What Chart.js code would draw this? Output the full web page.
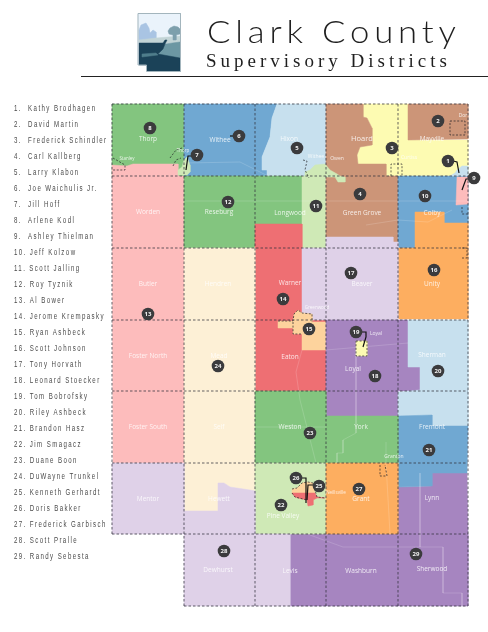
<!DOCTYPE html>
<html><head><meta charset="utf-8">
<style>html,body{margin:0;padding:0;background:#fff}canvas{display:block}</style>
<script src="https://cdn.jsdelivr.net/npm/chart.js@4"></script>
</head><body><canvas id="c" width="488" height="632"></canvas>
<script>
// ---- district names ----
const supervisors = ["Kathy Brodhagen","David Martin","Frederick Schindler","Carl Kallberg","Larry Klabon","Joe Waichulis Jr.","Jill Hoff","Arlene Kodl","Ashley Thielman","Jeff Kolzow","Scott Jalling","Roy Tyznik","Al Bower","Jerome Krempasky","Ryan Ashbeck","Scott Johnson","Tony Horvath","Leonard Stoecker","Tom Bobrofsky","Riley Ashbeck","Brandon Hasz","Jim Smagacz","Duane Boon","DuWayne Trunkel","Kenneth Gerhardt","Doris Bakker","Frederick Garbisch","Scott Pralle","Randy Sebesta"];
// ---- marker positions (map units), index = district - 1 ----
const markerXY = [[448,161],[438,121],[392,148],[360,194],[297,148],[239,136],[197,155],[150,128],[474,178],[425,196],[316,206],[228,202],[148,314],[283,299],[309,329],[434,270],[351,273],[375,376],[356,332],[438,371],[429,450],[281,505],[310,433],[218,366],[319,486],[296,478],[359,489],[224,551],[416,554]];
// ---- colours ----
const GREEN="#83c57f",PINK="#fdbcbc",BLUE="#70a8d2",PALEBLUE="#c7e0ee",BROWN="#cc9578",YELLOW="#fdfbb2",LIME="#cfe9b6",RED="#ee6f73",BEIGE="#fdf0d6",LILAC="#dfd1e8",PURPLE="#a685c0",ORANGE="#fdae60",PEACH="#fdd39d";
// ---- district areas (map units) ----
const thorpArea=[[112,104],[184,104],[184,176],[112,176]];
const wordenArea=[[112,165],[127,166],[133,164],[178,164],[178,176],[184,176],[184,463],[113,463]];
const witheeArea=[[184,104],[277,104],[272,118],[270,137],[262,157],[262,170],[267,170],[267,176],[184,176]];
const hixonArea=[[277,104],[326,104],[326,176],[267,176],[267,170],[262,170],[262,157],[270,137],[272,118]];
const hoardArea=[[326,104],[363,104],[363,117],[367,118],[372,128],[372,145],[360,147],[357,155],[358,164],[386,164],[386,176],[326,176]];
const yellowArea=[[363,104],[408,104],[408,140],[468,140],[468,176],[386,176],[386,164],[358,164],[357,155],[360,147],[372,145],[372,128],[367,118],[363,117]];
const mayvilleArea=[[408,104],[468,104],[468,139],[408,140]];
const reseburgArea=[[184,176],[302,176],[302,224],[255,224],[255,248],[184,248]];
const barArea=[[302,176],[326,176],[326,248],[302,248]];
const owenArea=[[305,172],[310,170],[315,165],[325,164],[330,170],[337,174],[340,176],[345,177],[345,182],[338,182],[335,177],[327,177],[305,177]];
const groveArea=[[326,176],[398,176],[398,242],[393,242],[393,237],[326,237]];
const colbyArea=[[398,176],[468,176],[468,223],[444,223],[444,212],[415,212],[415,248],[398,248]];
const unityArea=[[415,212],[444,212],[444,223],[468,223],[468,319],[398,319],[398,248],[415,248]];
const thielArea=[[456,205],[457,177],[468,177],[468,204]];
const ashleyArea=[[450,176],[455,173],[457,170],[462,166],[468,166],[468,176]];
const warnerArea=[[255,224],[302,224],[302,320],[326,320],[326,391],[255,391]];
const beaverArea=[[302,248],[326,248],[326,237],[393,237],[393,242],[398,242],[398,320],[302,320]];
const hendrenArea=[[184,248],[255,248],[255,491],[250,490],[230,487],[224,483],[218,483],[218,511],[184,511]];
const fifteenArea=[[278,321],[293,321],[294,314],[298,310],[302,313],[312,314],[312,322],[326,322],[326,350],[302,350],[302,334],[293,334],[293,328],[278,328]];
const loyalArea=[[326,320],[408,320],[408,367],[420,367],[420,391],[398,391],[398,416],[326,416]];
const loyalCity=[[356,341],[367,341],[367,356],[356,356]];
const shermanArea=[[408,320],[468,320],[468,426],[432,426],[432,415],[398,416],[398,392],[420,390],[420,367],[408,367]];
const fremontArea=[[398,416],[432,415],[432,426],[468,426],[467,473],[432,473],[432,486],[398,487]];
const lynnArea=[[398,487],[432,486],[432,473],[467,473],[468,534],[468,606],[290,606],[290,534],[398,534]];
const westonArea=[[255,391],[326,391],[326,416],[398,416],[398,463],[255,463]];
const pineArea=[[255,463],[326,463],[326,534],[255,534]];
const grantArea=[[326,463],[398,463],[398,534],[326,534]];
const blobTop=[[292,489],[297,488],[302,483],[308,482],[313,483],[315,493],[292,493]];
const blobRed=[[292,493],[315,493],[317,497],[325,498],[317,498],[313,500],[313,505],[308,506],[307,500],[298,498],[295,497]];
const lilacArea=[[112,463],[184,463],[184,511],[218,511],[218,483],[224,483],[230,487],[250,490],[255,491],[255,534],[290,534],[290,606],[184,606],[184,534],[112,534]];
const spike7=[[178,175],[178,170],[182,167],[184,160],[187,157],[190,165],[190,172],[187,175]];
// ---- district paint order ----
const areas=[[thorpArea,GREEN],[wordenArea,PINK],[witheeArea,BLUE],[hixonArea,PALEBLUE],[yellowArea,YELLOW],[hoardArea,BROWN],[mayvilleArea,BROWN],[reseburgArea,GREEN],[barArea,LIME],[groveArea,BROWN],[colbyArea,BLUE],[unityArea,ORANGE],[ashleyArea,PALEBLUE],[thielArea,PINK],[warnerArea,RED],[beaverArea,LILAC],[hendrenArea,BEIGE],[fifteenArea,PEACH],[loyalArea,PURPLE],[shermanArea,PALEBLUE],[lynnArea,PURPLE],[fremontArea,BLUE],[westonArea,GREEN],[pineArea,LIME],[grantArea,ORANGE],[lilacArea,LILAC],[owenArea,LIME],[spike7,LIME],[loyalCity,YELLOW],[blobTop,PEACH],[blobRed,RED]];
// ---- faint roads ----
const roads=[[[310,535],[343,547],[443,547],[443,593]],[[420,473],[420,547]],[[356,350],[356,433],[343,440],[343,453],[337,453],[337,463]],[[326,350],[408,343]],[[184,201],[468,201]],[[366,225],[398,220],[428,222],[452,210]],[[255,427],[326,427]],[[302,350],[296,372],[300,400],[316,463]],[[184,163],[240,162],[268,176]],[[390,534],[386,463],[386,442]],[[443,593],[462,593],[462,606]]];
// ---- township grid ----
const gridV=[[112,104,534],[184,104,606],[255,104,606],[326,104,606],[398,104,606],[468,104,606]];
const gridH=[[104,112,468],[176,112,468],[248,112,468],[320,112,468],[391,112,468],[463,112,468],[534,112,468],[606,184,468]];
// ---- city outlines ----
const cityLines=[[[113,158],[125,165],[125,170],[113,170]],[[170,158],[176,150],[182,148]],[[173,166],[176,160],[181,158]],[[303,160],[307,161],[305,170],[309,178]],[[391,176],[391,164],[402,164],[402,175]],[[450,121],[465,121],[465,135],[450,135],[450,121]],[[462,248],[467,248],[467,258],[462,258]],[[380,465],[380,476],[387,476],[385,465]],[[462,207],[462,214],[468,214]],[[278,321],[293,321],[294,314],[298,310],[302,313],[312,314],[312,322]],[[293,322],[293,334],[302,334]],[[356,341],[367,341],[367,356],[356,356],[356,341]],[[292,489],[297,488],[302,483],[308,482],[313,483],[317,497],[325,498]],[[292,493],[295,497],[307,500]]];
// ---- leader lines ----
const leaders=[[[192,156],[188,156],[186,170]],[[453,161],[457,162],[459,173]],[[468,179],[466,179],[462,190]],[[230,136],[234,136]],[[355,332],[366,332],[366,337],[363,347]],[[315,485],[308,485],[307,500]],[[295,478],[306,478],[306,503]]];
// ---- town names: [text, x, y, size] ----
const townLabels=[["Thorp",148,139,6.5],["Stanley",127,159,4.5],["Thorp",183,151,4.5],["Withee",220,140,6.5],["Hixon",289,139,6.5],["Hoard",362,139,7.5],["Owen",337,159,5],["Withee",316,157,5],["Curtiss",409,158,5],["Mayville",432,139,6.5],["Dor",463,116,5],["Worden",148,212,6.5],["Reseburg",219,212,6.5],["Longwood",290,213,6.5],["Green Grove",362,213,6.5],["Colby",432,213,6.5],["Butler",148,284,6.5],["Hendren",218,284,6.5],["Warner",290,283,6.5],["Beaver",362,284,6.5],["Unity",432,284,6.5],["Greenwood",317,308,4.5],["Foster North",148,356,6.5],["Mead",219,356,6.5],["Eaton",290,357,6.5],["Loyal",353,369,6.5],["Loyal",376,334,5],["Sherman",432,355,6.5],["Foster South",148,427,6.5],["Seif",219,427,6.5],["Weston",290,427,6.5],["York",361,427,6.5],["Fremont",432,427,6.5],["Granton",394,457,5],["Mentor",148,499,6.5],["Hewett",219,499,6.5],["Neillsville",336,493,4.5],["Grant",361,499,6.5],["Lynn",432,498,6.5],["Pine Valley",283,516,6.5],["Dewhurst",218,570,6.5],["Levis",290,571,6.5],["Washburn",361,571,6.5],["Sherwood",432,569,6.5]];
// ---- logo shapes ----
const logoFrame=[[138,13.5],[180.5,13.5],[180.5,71.5],[146.5,71.5],[146.5,65],[138,65]];
const logoBarn=[[139,40],[139,30],[141,25],[146,23],[149,28],[150,33],[153,30],[156,32],[156,40]];
const logoHill=[[139,40],[156,38],[180,36],[180,43],[139,43]];
const logoTree=[[173,40],[173,35],[169,34],[168,31],[170,28],[174,26],[178,27],[180,29],[180,34],[176,35],[176,40]];
const logoMid=[[165,44],[180,42],[180,58],[156,58],[161,50]];
const logoDark=[[139,43],[163,43],[165,40],[167,40],[165,44],[163,49],[158,54],[180,58],[180,71],[147,71],[147,65],[139,65]];
const logoStreak=[[142,54],[156,53],[158,55],[142,57]];
const logoAreas=[[logoFrame,"#eaf3fb"],[logoBarn,"#a9c4e3"],[logoHill,"#c2d4d6"],[logoTree,"#7d9fac"],[logoMid,"#6c97a3"],[logoDark,"#1b4258"],[logoStreak,"#4f7d8b"]];
// ---- header text ----
const titleMain="Clark County", titleSub="Supervisory Districts";

const toPts=a=>a.map(p=>({x:p[0],y:p[1]}));
const ds=[];
const poly=(pts,col)=>ds.push({type:'scatter',data:toPts(pts.concat([pts[0]])),showLine:true,fill:'shape',backgroundColor:col,borderColor:col,borderWidth:0.5,pointRadius:0,tension:0});
const line=(pts,col,w,dash)=>ds.push({type:'scatter',data:toPts(pts),showLine:true,fill:false,borderColor:col,borderWidth:w,borderDash:dash||[],pointRadius:0,tension:0});
logoAreas.forEach(a=>poly(a[0],a[1]));
line(logoFrame.concat([logoFrame[0]]),"#a3b5bd",1);
line([[81,76.5],[488,76.5]],"#222",1);
areas.forEach(a=>poly(a[0],a[1]));
roads.forEach(r=>line(r,"rgba(255,255,255,0.2)",0.8));
gridV.forEach(g=>line([[g[0],g[1]],[g[0],g[2]]],"rgba(50,50,60,0.85)",0.9,[2.5,2]));
gridH.forEach(g=>line([[g[1],g[0]],[g[2],g[0]]],"rgba(50,50,60,0.85)",0.9,[2.5,2]));
cityLines.forEach(r=>line(r,"rgba(30,30,35,0.85)",0.8,[2,1.6]));
leaders.forEach(r=>line(r,"#111",1.2));
ds.push({type:'scatter',data:toPts(markerXY),pointRadius:6.3,pointBackgroundColor:"#3b3b3d",pointBorderWidth:0,showLine:false});
// paint order: first dataset is painted last in Chart.js, so use explicit order
ds.forEach((d,i)=>d.order=ds.length-i);

const textPlugin={id:'maptext',afterDatasetsDraw(chart){
  const c=chart.ctx,X=chart.scales.x,Y=chart.scales.y;
  c.save();
  c.textBaseline='middle';c.textAlign='center';
  townLabels.forEach(t=>{c.font=t[3]+'px "Open Sans"';c.fillStyle='rgba(255,255,255,0.82)';c.fillText(t[0],X.getPixelForValue(t[1]),Y.getPixelForValue(t[2]));});
  c.font='bold 6px "Open Sans"';c.fillStyle='#f2f2f2';
  markerXY.forEach((m,i)=>c.fillText(String(i+1),X.getPixelForValue(m[0]),Y.getPixelForValue(m[1])+0.3));
  c.textAlign='left';c.textBaseline='alphabetic';
  c.fillStyle='#4a4a4a';
  c.font='8.5px "Liberation Sans"';c.letterSpacing='1.95px';
  supervisors.forEach((s,i)=>{
    const n=(i+1)+'.';
    c.save();
    c.translate(X.getPixelForValue(14),Y.getPixelForValue(111+i*15.99));
    c.scale(0.72,1);
    c.fillText(n+(i<9?'  ':' ')+s,0,0);
    c.restore();
  });
  c.fillStyle='#1f1f1f';
  c.font='300 31px "Lato"';c.letterSpacing='4.3px';
  c.save();
  c.translate(X.getPixelForValue(207),Y.getPixelForValue(43));
  c.scale(1.12,1);
  c.fillText(titleMain,0,0);
  c.restore();
  c.font='19px "Liberation Serif"';c.letterSpacing='4px';
  c.fillText(titleSub,X.getPixelForValue(206),Y.getPixelForValue(66.5));
  c.restore();
}};

new Chart(document.getElementById('c'),{
  type:'scatter',
  data:{datasets:ds},
  options:{responsive:false,animation:false,devicePixelRatio:1,
    layout:{padding:0,autoPadding:false},
    plugins:{legend:{display:false},tooltip:{enabled:false},title:{display:false}},
    clip:false,
    scales:{x:{type:'linear',min:0,max:488,display:false},y:{type:'linear',min:0,max:632,reverse:true,display:false}}},
  plugins:[textPlugin]
});
</script></body></html>
